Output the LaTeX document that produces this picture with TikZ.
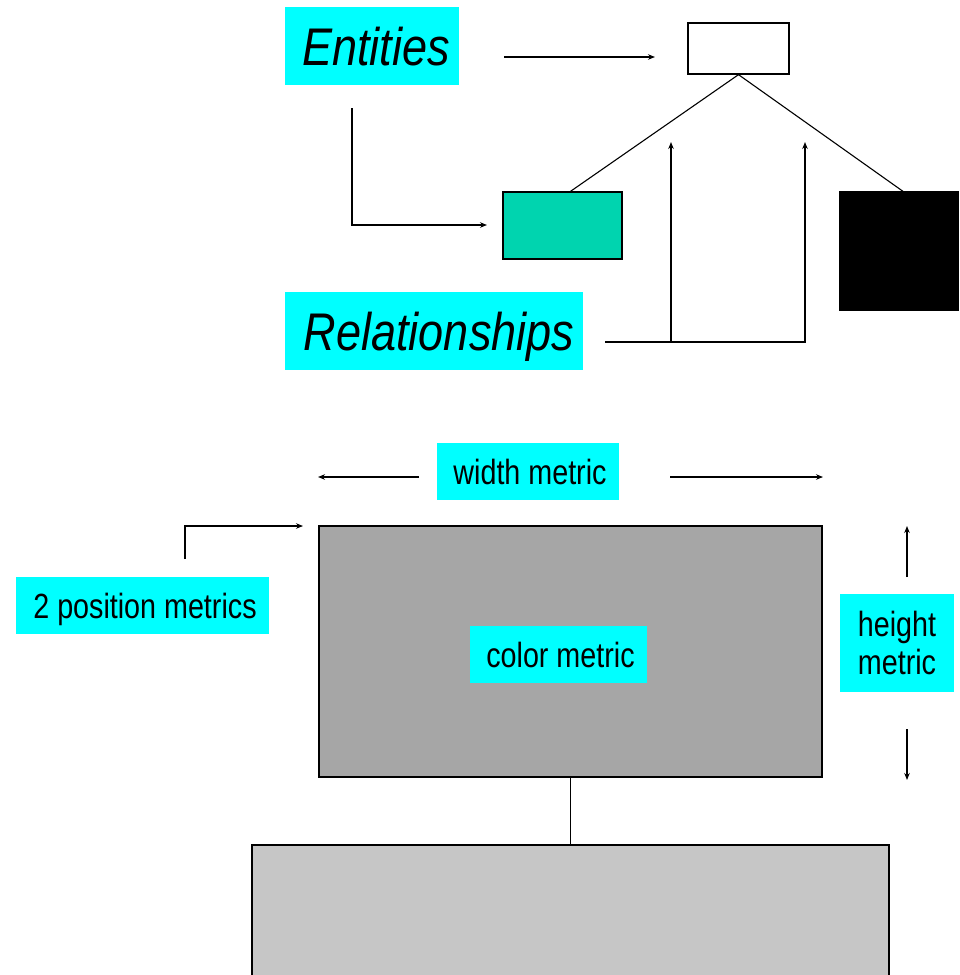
\documentclass[tikz,border=0pt]{standalone}
\usepackage{fontspec}
\setmainfont{Liberation Sans}[FakeStretch=0.82]
\newfontfamily\bigfamily{Liberation Sans}[FakeStretch=0.85]
\usetikzlibrary{arrows.meta}
\definecolor{cyanbg}{RGB}{0,255,255}
\definecolor{tealfill}{RGB}{0,212,175}
\definecolor{greyA}{RGB}{166,166,166}
\definecolor{greyB}{RGB}{198,198,198}
\begin{document}
\begin{tikzpicture}[x=1pt,y=-1pt,
  labelbox/.style={fill=cyanbg, inner sep=0pt, text depth=0pt},
  bigtext/.style={font=\bigfamily\fontsize{53}{60}\selectfont\itshape, text height=38pt},
  smalltext/.style={font=\fontsize{35}{38}\selectfont, text height=25pt},
  shapebox/.style={draw, line width=1.3pt, inner sep=0pt},
  conn/.style={line width=1.1pt},
  arr/.style={conn, -{Stealth[length=7pt,width=5.5pt]}}]
\useasboundingbox (0,0) rectangle (959,975);
\clip (0,0) rectangle (959,975);

% top part
\node[labelbox, bigtext, minimum width=174pt, minimum height=78pt] (ent) at (372,46) {\hspace*{8pt}Entities};
\node[labelbox, bigtext, minimum width=298pt, minimum height=78pt] (rel) at (434,331) {\hspace*{10pt}Relationships};
\node[shapebox, fill=white, minimum width=101pt, minimum height=51pt] (top) at (738.5,48.5) {};
\node[shapebox, fill=tealfill, minimum width=119pt, minimum height=67pt] (teal) at (562.5,225.5) {};
\node[shapebox, fill=black, minimum width=118pt, minimum height=118pt] (blk) at (899,251) {};

\draw[conn] (top.south) -- ([xshift=8pt]teal.north);
\draw[conn] (top.south) -- ([xshift=4pt]blk.north);

\coordinate (e1) at (504,57);
\coordinate (e2) at (655,57);
\draw[arr] (e1) -- (e2);
\coordinate (e3) at (352,108);
\coordinate (e4) at (487,225);
\draw[arr] (e3) |- (e4);

\coordinate (r1) at (605,342);
\coordinate (r2) at (805,342);
\coordinate (r3) at (805,142);
\coordinate (r4) at (671,342);
\coordinate (r5) at (671,142);
\draw[arr] (r1) -- (r2) -- (r3);
\draw[arr] (r4) -- (r5);

% bottom part
\node[shapebox, fill=greyA, minimum width=503pt, minimum height=251pt] (grey) at (570.5,651.5) {};
\node[shapebox, fill=greyB, minimum width=637pt, minimum height=170pt] (low) at (570.5,930) {};
\draw[conn] (grey.south) -- (low.north);

\node[labelbox, smalltext, minimum width=182pt, minimum height=57pt] (wm) at (528,471.5) {\hspace*{4pt}width metric};
\node[labelbox, smalltext, minimum width=253pt, minimum height=57pt] (pm) at (142.5,605.5) {\hspace*{5pt}2 position metrics};
\node[labelbox, smalltext, minimum width=177pt, minimum height=57pt] (cm) at (558.5,654.5) {\hspace*{4pt}color metric};
\node[labelbox, font=\fontsize{35}{38.5}\selectfont, align=center, minimum width=114pt, minimum height=98pt] (hm) at (897,643) {height\\metric};

\coordinate (w1) at (419,477);
\coordinate (w2) at (318,477);
\coordinate (w3) at (670,477);
\coordinate (w4) at (823,477);
\draw[arr] (w1) -- (w2);
\draw[arr] (w3) -- (w4);

\coordinate (p1) at (185,559);
\coordinate (p2) at (303,526);
\draw[arr] (p1) |- (p2);

\coordinate (h1) at (907,577);
\coordinate (h2) at (907,526);
\coordinate (h3) at (907,729);
\coordinate (h4) at (907,780);
\draw[arr] (h1) -- (h2);
\draw[arr] (h3) -- (h4);
\end{tikzpicture}
\end{document}
